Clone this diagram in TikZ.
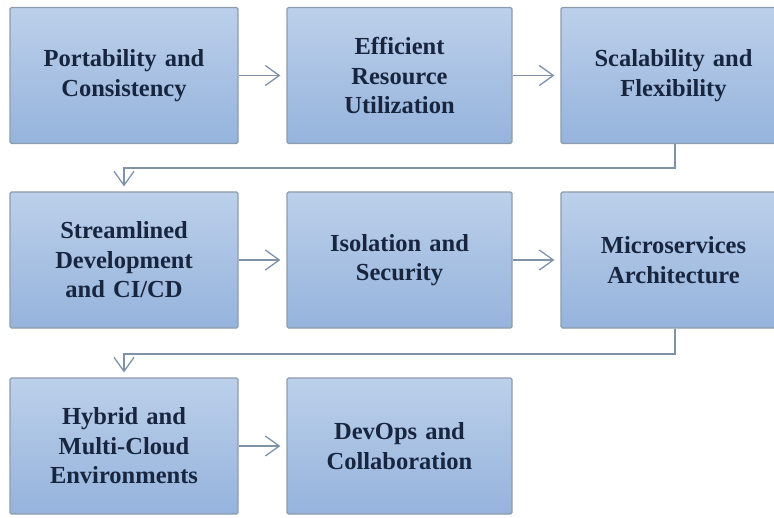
\documentclass[tikz,border=0pt]{standalone}
\usepackage{fontspec}
\setmainfont{Liberation Serif}
\usetikzlibrary{arrows.meta}
\definecolor{boxtop}{HTML}{BCD0EA}
\definecolor{boxbot}{HTML}{95B3DC}
\definecolor{boxline}{HTML}{8D9CAD}
\definecolor{linkcol}{HTML}{7E92A8}
\definecolor{textcol}{HTML}{18253F}
\tikzset{
  stage/.style={draw=boxline, line width=1.2pt, top color=boxtop, bottom color=boxbot,
    rounded corners=1.5pt, minimum width=225pt, minimum height=136pt,
    text width=218pt, align=center, text=textcol, inner sep=0pt,
    font=\fontsize{24.5}{29.5}\selectfont\bfseries},
  link/.style={draw=linkcol, line width=1.3pt,
    -{Straight Barb[length=14pt, width=20pt, line width=1.3pt]}},
}
\begin{document}
\begin{tikzpicture}[x=1pt, y=-1pt]
\useasboundingbox (0,0) rectangle (774,517);
\fill[white] (0,0) rectangle (774,517);
\begin{scope}
\clip (0,0) rectangle (774,517);
% first row
\node[stage, minimum width=228pt] (p1) at (124,75.5) {Portability and\\Consistency};
\node[stage] (p2) at (399.5,75.5) {Efficient\\Resource\\Utilization};
\node[stage] (p3) at (673.5,75.5) {Scalability and\\Flexibility};
% second row
\node[stage, minimum width=228pt] (p4) at (124,260) {Streamlined\\Development\\and CI/CD};
\node[stage] (p5) at (399.5,260) {Isolation and\\Security};
\node[stage] (p6) at (673.5,260) {Microservices\\Architecture};
% third row
\node[stage, minimum width=228pt] (p7) at (124,446) {Hybrid and\\Multi-Cloud\\Environments};
\node[stage] (p8) at (399.5,446) {DevOps and\\Collaboration};
% turn points of the row-to-row connectors
\coordinate (t1) at (675,168);
\coordinate (t2) at (675,354);
\end{scope}
% arrows within each row
\draw[link] (p1.east) -- ([xshift=-6pt]p2.west);
\draw[link] (p2.east) -- ([xshift=-6pt]p3.west);
\draw[link] (p4.east) -- ([xshift=-6pt]p5.west);
\draw[link] (p5.east) -- ([xshift=-6pt]p6.west);
\draw[link] (p7.east) -- ([xshift=-6pt]p8.west);
% arrows from one row to the next
\draw[link] (t1 |- p3.south) -- (t1) -- (t1 -| p4.north) -- ([yshift=5pt]p4.north);
\draw[link] (t2 |- p6.south) -- (t2) -- (t2 -| p7.north) -- ([yshift=5pt]p7.north);
\end{tikzpicture}
\end{document}
